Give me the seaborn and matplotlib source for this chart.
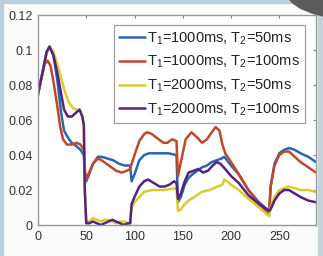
import numpy as np
import pandas as pd
import seaborn as sns
import matplotlib.pyplot as plt
from matplotlib.patches import Rectangle, Polygon

# signal vs. time point
labels = [r"T$_1$=1000ms, T$_2$=50ms", r"T$_1$=1000ms, T$_2$=100ms",
          r"T$_1$=2000ms, T$_2$=50ms", r"T$_1$=2000ms, T$_2$=100ms"]

blue_x = [0, 5, 9, 12, 16, 20, 24, 27, 31, 35, 40, 44, 47.5, 48.5, 50, 53, 57, 62, 66, 72, 78, 84, 90, 95.5,
          97, 100, 105, 110, 115, 125, 135, 143.5, 145, 148, 152, 156, 160, 165, 170, 175, 180, 185, 190, 193,
          200, 208, 218, 229, 239.5, 241, 245, 250, 255, 260, 266, 272, 280, 288]
blue_y = [0.075, 0.088, 0.099, 0.102, 0.097, 0.083, 0.064, 0.054, 0.050, 0.047, 0.045, 0.043, 0.040, 0.030,
          0.025, 0.029, 0.035, 0.039, 0.039, 0.038, 0.037, 0.035, 0.034, 0.034,
          0.025, 0.029, 0.037, 0.040, 0.041, 0.041, 0.041, 0.040, 0.013, 0.016, 0.023, 0.027, 0.029, 0.031,
          0.033, 0.034, 0.036, 0.037, 0.038, 0.039,
          0.034, 0.029, 0.020, 0.013, 0.008, 0.022, 0.035, 0.041, 0.043, 0.044, 0.043, 0.041, 0.039, 0.036]

red_x = [0, 4, 7, 10, 13, 16, 20, 23, 26, 30, 35, 40, 44, 47.5, 48.5, 50, 53, 57, 62, 66, 71, 76, 81, 87, 92,
         95.5, 97, 100, 105, 110, 113, 118, 125, 130, 134, 139, 143.5, 145, 148, 153, 159, 165, 170, 175, 180,
         184, 188, 191, 194, 200, 208, 218, 229, 239.5, 241, 245, 250, 255, 260, 266, 272, 280, 288]
red_y = [0.074, 0.085, 0.092, 0.094, 0.091, 0.082, 0.068, 0.056, 0.049, 0.046, 0.046, 0.047, 0.046, 0.043,
         0.032, 0.026, 0.030, 0.035, 0.038, 0.037, 0.035, 0.033, 0.031, 0.030, 0.031,
         0.032, 0.035, 0.040, 0.048, 0.052, 0.053, 0.052, 0.049, 0.047, 0.047, 0.049, 0.048, 0.028, 0.036,
         0.049, 0.053, 0.050, 0.047, 0.049, 0.053,
         0.056, 0.054, 0.046, 0.041, 0.036, 0.029, 0.020, 0.012, 0.006, 0.022, 0.034, 0.040, 0.042, 0.042,
         0.039, 0.036, 0.033, 0.030]

yellow_x = [0, 5, 9, 12, 16, 20, 24, 28, 32, 36, 40, 44, 47.5, 48.5, 50, 53, 57, 61, 65, 69, 73, 77, 81, 85,
            89, 93, 95.5, 97, 100, 105, 110, 118, 130, 143.5, 145, 148, 152, 156, 162, 170, 178, 186, 191,
            193, 196, 200, 208, 218, 229, 239.5, 241, 245, 250, 255, 260, 266, 272, 280, 288]
yellow_y = [0.075, 0.088, 0.098, 0.102, 0.099, 0.092, 0.084, 0.076, 0.070, 0.067, 0.066, 0.065, 0.058,
            0.020, 0.002, 0.002, 0.004, 0.003, 0.002, 0.003, 0.003, 0.002, 0.001, 0.002,
            0.002, 0.001, 0.001, 0.010, 0.013, 0.016, 0.019, 0.020, 0.020, 0.021, 0.008, 0.009, 0.012, 0.014,
            0.016, 0.019, 0.020, 0.022, 0.023,
            0.026, 0.025, 0.023, 0.020, 0.015, 0.010, 0.005, 0.010, 0.016, 0.020, 0.021, 0.022, 0.021,
            0.020, 0.020, 0.019]

purple_x = [0, 5, 9, 12, 16, 20, 24, 27, 31, 35, 39, 43, 46, 47.5, 48.5, 50, 53, 57, 61, 65, 69, 73, 77, 81,
            85, 89, 93, 95.5, 97, 100, 105, 110, 114, 120, 126, 131, 136, 141, 143.5, 145, 148, 152, 156, 161,
            166, 171, 176, 181, 185, 189, 194, 200, 208, 218, 229, 239.5, 241, 245, 250, 255, 260, 266, 272,
            280, 288]
purple_y = [0.075, 0.088, 0.099, 0.102, 0.097, 0.087, 0.075, 0.066, 0.062, 0.062, 0.064, 0.066, 0.062,
            0.057, 0.020, 0.001, 0.001, 0.002, 0.001, 0.000, 0.001, 0.002, 0.003, 0.002,
            0.001, 0.000, 0.001, 0.001, 0.012, 0.016, 0.022, 0.025, 0.026, 0.024, 0.022, 0.022, 0.023, 0.025,
            0.024, 0.015, 0.018, 0.025, 0.030, 0.031,
            0.032, 0.030, 0.031, 0.034, 0.036, 0.035, 0.032, 0.028, 0.024, 0.017, 0.012, 0.008, 0.009,
            0.014, 0.018, 0.020, 0.020, 0.018, 0.016,
            0.014, 0.013]

colors = ["#2a66b0", "#c0482a", "#dccb2e", "#55237e"]

frames = []
for lab, xs, ys in zip(labels, [blue_x, red_x, yellow_x, purple_x], [blue_y, red_y, yellow_y, purple_y]):
    frames.append(pd.DataFrame({"t": xs, "signal": ys, "series": lab}))
df = pd.concat(frames, ignore_index=True)

sns.set_theme(style="white")
plt.rcParams["font.family"] = ["Liberation Sans", "DejaVu Sans"]
plt.rcParams["mathtext.fontset"] = "custom"
plt.rcParams["mathtext.rm"] = "Liberation Sans"
plt.rcParams["mathtext.it"] = "Liberation Sans"

fig = plt.figure(figsize=(3.23, 2.56), dpi=100)
fig.patch.set_facecolor("#fbfbfb")
ax = fig.add_axes([0.1176, 0.121, 0.8607, 0.820])

sns.lineplot(data=df, x="t", y="signal", hue="series", hue_order=labels, palette=colors,
             estimator=None, sort=False, lw=1.8, ax=ax)

ax.set_xlim(0, 288)
ax.set_ylim(0, 0.12)
ax.set_xticks([0, 50, 100, 150, 200, 250])
ax.set_yticks([0, 0.02, 0.04, 0.06, 0.08, 0.1, 0.12])
ax.set_yticklabels(["0", "0.02", "0.04", "0.06", "0.08", "0.1", "0.12"])
ax.set_xlabel("")
ax.set_ylabel("")
ax.tick_params(direction="in", length=2.5, width=0.8, color="#888888", labelsize=9,
               labelcolor="#333333", top=True, right=True, pad=4)
for s in ax.spines.values():
    s.set_color("#999999")
    s.set_linewidth(1.0)

leg = ax.legend(loc="upper right", bbox_to_anchor=(0.962, 0.952), fontsize=10.5, frameon=True,
                fancybox=False, handlelength=1.8, handletextpad=0.15, labelspacing=0.5,
                borderpad=0.35, borderaxespad=0)
leg.get_frame().set_edgecolor("#888888")
leg.get_frame().set_linewidth(0.9)
for t in leg.get_texts():
    t.set_color("#222222")

# screenshot frame bits
fig.patches.append(Rectangle((0, 0), 3 / 323, 1, transform=fig.transFigure, color="#bcd0dc", zorder=-1))
fig.patches.append(Rectangle((0, 1 - 3 / 256), 1, 3 / 256, transform=fig.transFigure, color="#bcd0dc", zorder=-1))
fig.patches.append(Rectangle((318 / 323, 0), 5 / 323, 1, transform=fig.transFigure, color="#c4d2da", zorder=-1))
blob = [(290, 0), (323, 0), (323, 16), (312, 13), (300, 8), (293, 3)]
fig.patches.append(Polygon([(x / 323, 1 - y / 256) for x, y in blob], closed=True,
                           transform=fig.transFigure, color="#5c5c5c"))

fig.savefig("out.png", dpi=100)
